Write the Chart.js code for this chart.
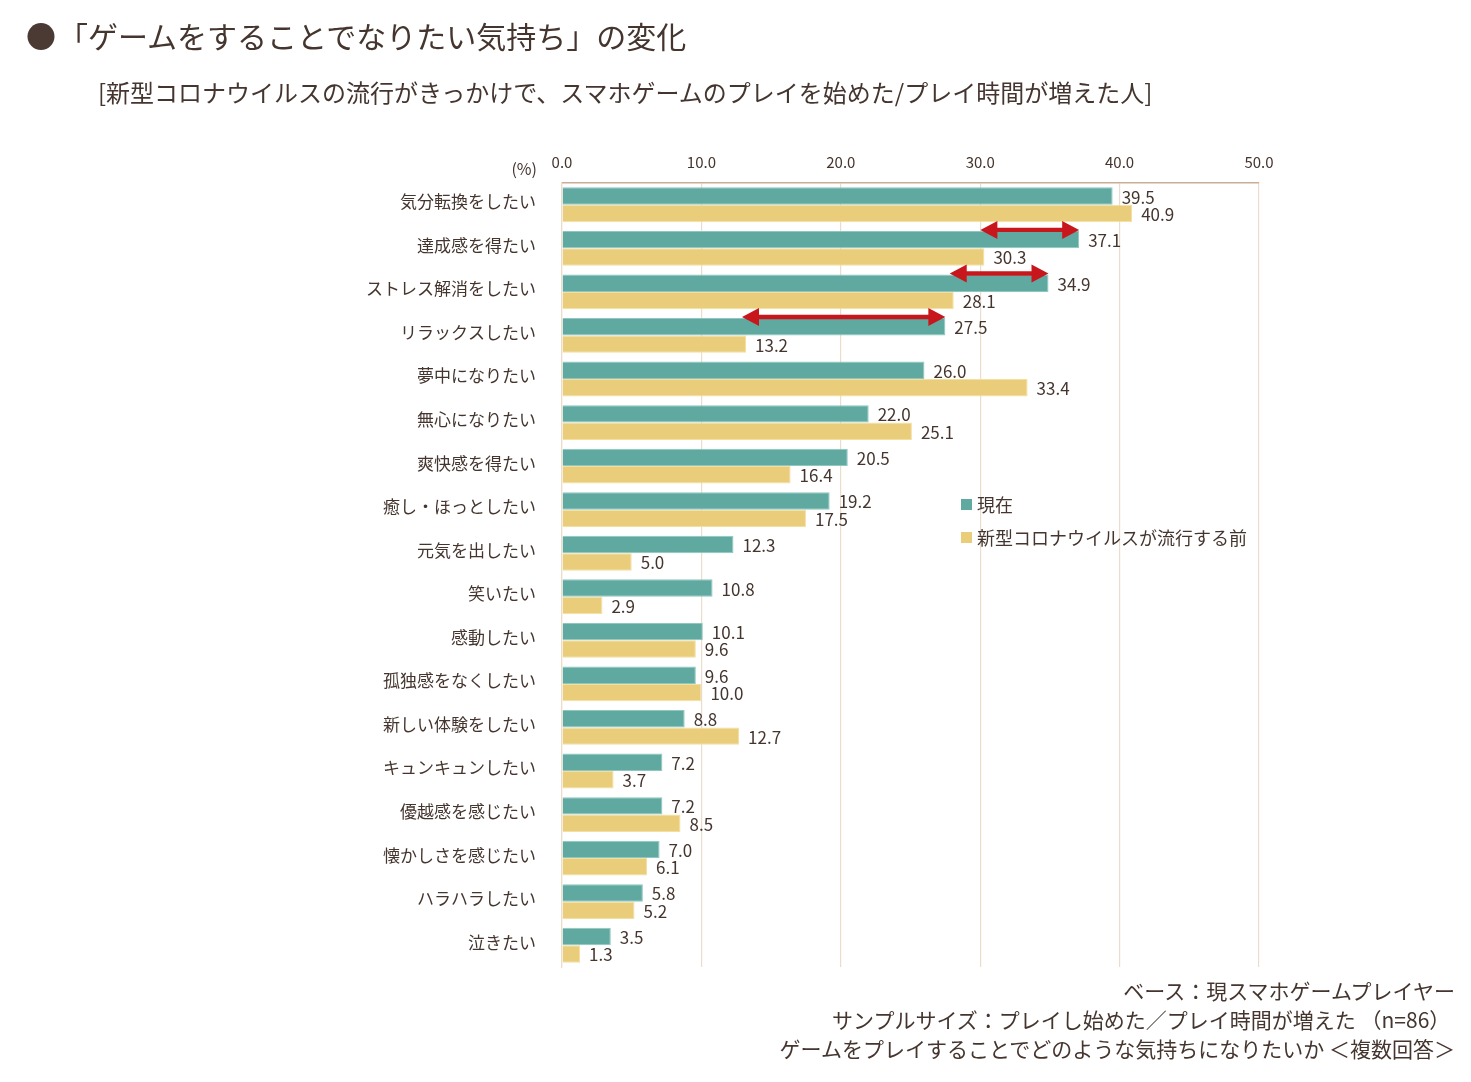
<!DOCTYPE html>
<html lang="ja">
<head>
<meta charset="utf-8">
<script src="https://cdn.jsdelivr.net/npm/chart.js@4/dist/chart.umd.min.js"></script>
<style>
  body { margin: 0; background: #fff; font-family: "Noto Sans CJK JP", sans-serif; color: #45352f; }
  #wrap { position: relative; width: 1471px; height: 1082px; }
  #chart { position: absolute; left: 0; top: 0; }
  .title { position: absolute; left: 26px; top: 13px; font-size: 30px; white-space: nowrap; }
  .title .dot { font-size: 30px; margin-right: 2px; color: #4a3a33; }
  .sub { position: absolute; left: 98px; top: 74px; font-size: 24px; white-space: nowrap; }
  .note { position: absolute; right: 16px; top: 976px; font-size: 21px; line-height: 29px; text-align: right; white-space: nowrap; }
</style>
</head>
<body>
<div id="wrap">
  <canvas id="chart" width="1471" height="1082"></canvas>
  <div class="title"><span class="dot">●</span>「ゲームをすることでなりたい気持ち」の変化</div>
  <div class="sub">[新型コロナウイルスの流行がきっかけで、スマホゲームのプレイを始めた/プレイ時間が増えた人]</div>
  <div class="note">ベース：現スマホゲームプレイヤー<br>サンプルサイズ：プレイし始めた／プレイ時間が増えた （n=86）&nbsp;<br>ゲームをプレイすることでどのような気持ちになりたいか ＜複数回答＞</div>
</div>
<script>
/* ======================================
   DATA
====================================== */
const categories = [
  "気分転換をしたい", "達成感を得たい", "ストレス解消をしたい", "リラックスしたい",
  "夢中になりたい", "無心になりたい", "爽快感を得たい", "癒し・ほっとしたい",
  "元気を出したい", "笑いたい", "感動したい", "孤独感をなくしたい",
  "新しい体験をしたい", "キュンキュンしたい", "優越感を感じたい", "懐かしさを感じたい",
  "ハラハラしたい", "泣きたい"
];
const nowValues = [39.5, 37.1, 34.9, 27.5, 26.0, 22.0, 20.5, 19.2, 12.3, 10.8, 10.1, 9.6, 8.8, 7.2, 7.2, 7.0, 5.8, 3.5];
const beforeValues = [40.9, 30.3, 28.1, 13.2, 33.4, 25.1, 16.4, 17.5, 5.0, 2.9, 9.6, 10.0, 12.7, 3.7, 8.5, 6.1, 5.2, 1.3];
const seriesNames = ["現在", "新型コロナウイルスが流行する前"];
const xTicks = [0, 10, 20, 30, 40, 50];
const arrowRows = [1, 2, 3];

const TEXT = "#45352f";
const TEAL = "#5fa9a1";
const YELLOW = "#e9cd7b";
const FONT = "'Noto Sans CJK JP', sans-serif";


/* ======================================
   LABELS / ARROWS / LEGEND
====================================== */
const extras = {
  id: "extras",
  afterDatasetsDraw(chart) {
    const ctx = chart.ctx;
    const x = chart.scales.x;

    // value labels
    ctx.save();
    ctx.font = "17px " + FONT;
    ctx.fillStyle = TEXT;
    ctx.textBaseline = "middle";
    chart.data.datasets.forEach((ds, di) => {
      chart.getDatasetMeta(di).data.forEach((bar, i) => {
        ctx.fillText(ds.data[i].toFixed(1), bar.x + 9, bar.y + 1);
      });
    });
    ctx.restore();

    // red double arrows
    ctx.save();
    ctx.fillStyle = "#c8171c";
    arrowRows.forEach(i => {
      const bar = chart.getDatasetMeta(0).data[i];
      const y = bar.y - bar.height / 2 - 1;
      const x1 = x.getPixelForValue(beforeValues[i]) - 4;
      const x2 = x.getPixelForValue(nowValues[i]);
      const head = 17, hh = 9, sh = 2.2;
      ctx.beginPath();
      ctx.moveTo(x1, y);
      ctx.lineTo(x1 + head, y - hh);
      ctx.lineTo(x1 + head, y - sh);
      ctx.lineTo(x2 - head, y - sh);
      ctx.lineTo(x2 - head, y - hh);
      ctx.lineTo(x2, y);
      ctx.lineTo(x2 - head, y + hh);
      ctx.lineTo(x2 - head, y + sh);
      ctx.lineTo(x1 + head, y + sh);
      ctx.lineTo(x1 + head, y + hh);
      ctx.closePath();
      ctx.fill();
    });
    ctx.restore();

    // (%) unit
    ctx.save();
    ctx.font = "16px " + FONT;
    ctx.fillStyle = TEXT;
    ctx.textAlign = "right";
    ctx.textBaseline = "middle";
    ctx.fillText("(%)", 537, 169);
    ctx.restore();

    // legend
    ctx.save();
    ctx.font = "18px " + FONT;
    ctx.textBaseline = "middle";
    const colors = [TEAL, YELLOW];
    seriesNames.forEach((name, k) => {
      const ly = 505 + k * 33;
      ctx.fillStyle = colors[k];
      ctx.fillRect(961, ly - 6, 11, 11);
      ctx.fillStyle = TEXT;
      ctx.fillText(name, 977, ly);
    });
    ctx.restore();
  }
};


/* ======================================
   CHART
====================================== */
new Chart(document.getElementById("chart"), {
  type: "bar",
  data: {
    labels: categories,
    datasets: [
      { label: seriesNames[0], data: nowValues, backgroundColor: TEAL, borderColor: "#8fc7c0", borderWidth: 1 },
      { label: seriesNames[1], data: beforeValues, backgroundColor: YELLOW, borderColor: "#f3df9f", borderWidth: 1 }
    ]
  },
  options: {
    indexAxis: "y",
    responsive: false,
    animation: false,
    layout: { padding: { left: 0, top: 0, right: 212, bottom: 115 } },
    categoryPercentage: 0.8,
    barPercentage: 1.0,
    plugins: {
      legend: { display: false },
      tooltip: { enabled: false }
    },
    scales: {
      x: {
        position: "top",
        min: 0,
        max: 50,
        afterFit: s => { s.height = 183; },
        afterBuildTicks: s => { s.ticks = xTicks.map(v => ({ value: v })); },
        ticks: {
          padding: 12,
          color: TEXT,
          font: { family: FONT, size: 15 },
          callback: v => Number(v).toFixed(1)
        },
        grid: { color: "#ecdccc", drawTicks: false, lineWidth: 1.2 },
        border: { color: "#c9ad95", width: 1.5 }
      },
      y: {
        afterFit: s => { s.width = 562; },
        ticks: {
          padding: 26,
          labelOffset: -3,
          color: TEXT,
          font: { family: FONT, size: 17 }
        },
        grid: { display: false, drawTicks: false },
        border: { color: "#ecdccc", width: 1.2 }
      }
    }
  },
  plugins: [extras]
});
</script>
</body>
</html>
